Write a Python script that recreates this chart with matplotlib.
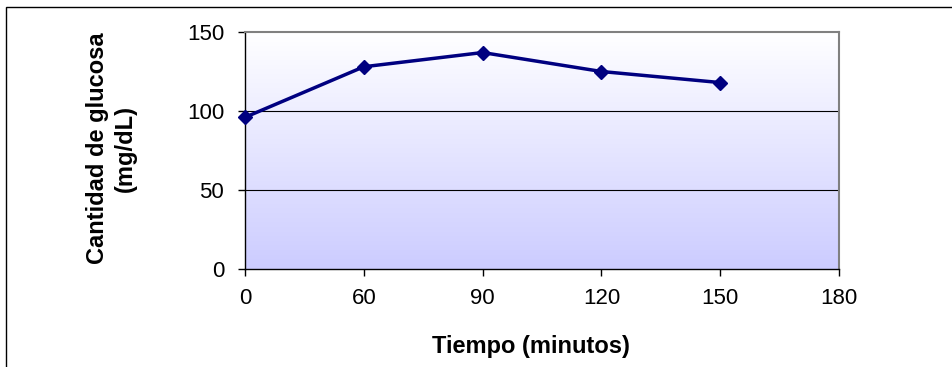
import numpy as np
import matplotlib.pyplot as plt
from matplotlib.colors import LinearSegmentedColormap
from matplotlib.patches import Rectangle

plt.rcParams['font.family'] = ['Liberation Sans', 'DejaVu Sans']

tiempo = ['0', '60', '90', '120', '150', '180']
glucosa = [96, 128, 137, 125, 118]

fig = plt.figure(figsize=(9.52, 3.67), dpi=100)
ax = fig.add_axes([245 / 952, 1 - 269 / 367, 594 / 952, 237 / 367])

# fondo degradado del area de trazado: blanco arriba, lavanda abajo
grad = LinearSegmentedColormap.from_list('fondo', ['#ffffff', '#ccccff'])
ax.imshow(np.linspace(1, 0, 256).reshape(-1, 1), cmap=grad, aspect='auto',
          extent=[0, 5, 0, 150], origin='lower', zorder=0)
ax.set_ylim(0, 150)
ax.set_xlim(0, 5)

for y in [50, 100]:
    ax.axhline(y, color='black', lw=0.8, zorder=1)

x = np.arange(len(glucosa))
ax.plot(x, glucosa, color='#000080', lw=2.5, marker='D', ms=7, zorder=3,
        clip_on=False)

ax.set_xticks(range(len(tiempo)))
ax.set_xticklabels(tiempo)
ax.set_yticks([0, 50, 100, 150])
ax.tick_params(labelsize=16, direction='out', length=5, width=1)
ax.tick_params(axis='y', pad=10)
ax.tick_params(axis='x', pad=9)

for s in ['top', 'right']:
    ax.spines[s].set_color('#808080')
    ax.spines[s].set_linewidth(1.5)
for s in ['left', 'bottom']:
    ax.spines[s].set_color('black')
    ax.spines[s].set_linewidth(1)

ax.set_xlabel('Tiempo (minutos)', fontsize=17, fontweight='bold', va='center')
ax.xaxis.set_label_coords(0.481, -0.325)
ax.set_ylabel('Cantidad de glucosa\n(mg/dL)', fontsize=17, fontweight='bold',
              linespacing=1.25, va='center')
ax.yaxis.set_label_coords(-0.225, 0.51)

# marco exterior
fig.patches.append(Rectangle((6 / 952, -0.1), 1.2, 1 - 7 / 367 + 0.1,
                             transform=fig.transFigure, fill=False,
                             edgecolor='black', lw=1))

fig.savefig('out.png', dpi=100)
